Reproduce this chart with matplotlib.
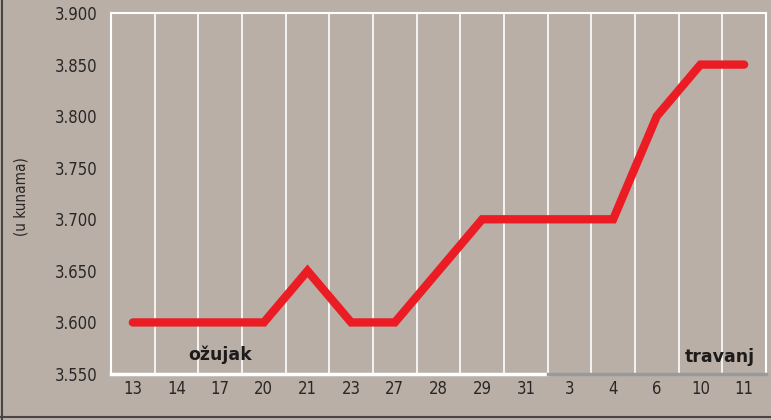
import matplotlib
matplotlib.use('Agg')
import matplotlib.pyplot as plt
from matplotlib.lines import Line2D

days = ['13', '14', '17', '20', '21', '23', '27', '28', '29', '31', '3', '4', '6', '10', '11']
prices = [3.600, 3.600, 3.600, 3.600, 3.650, 3.600, 3.600, 3.650, 3.700, 3.700,
          3.700, 3.700, 3.800, 3.850, 3.850]
yticks = [3.550, 3.600, 3.650, 3.700, 3.750, 3.800, 3.850, 3.900]
ylabels = ['3.550', '3.600', '3.650', '3.700', '3.750', '3.800', '3.850', '3.900']
months = ['ožujak', 'travanj']
split = 10  # first day of travanj

bg = '#b9afa7'
narrow = ['Liberation Sans Narrow', 'DejaVu Sans']
txt = '#2a2626'

fig = plt.figure(figsize=(7.71, 4.20), dpi=100, facecolor=bg)
ax = fig.add_axes([0.144, 0.1095, 0.8495, 0.8595])
ax.set_facecolor(bg)

x = list(range(len(days)))
ax.plot(x, prices, color='#ec1c24', lw=6, solid_capstyle='round',
        solid_joinstyle='miter', zorder=3)

ax.set_xlim(-0.5, len(days) - 0.5)
ax.set_ylim(3.550, 3.900)

# vertical separators between days
for i in range(len(days) - 1):
    ax.axvline(i + 0.5, color='white', lw=1.2, zorder=1)

for s in ['left', 'top', 'right']:
    ax.spines[s].set_color('white')
    ax.spines[s].set_linewidth(1.5)
ax.spines['bottom'].set_visible(False)
n = len(days)
ax.add_line(Line2D([-0.5, split - 0.5], [3.550, 3.550], color='white', lw=2.5,
                   clip_on=False, zorder=4))
ax.add_line(Line2D([split - 0.5, n - 0.5], [3.550, 3.550], color='#9b9a9a', lw=2.5,
                   clip_on=False, zorder=4))

ax.set_xticks(x)
ax.set_xticklabels(days, family=narrow, stretch='condensed', fontsize=12, color=txt)
ax.set_yticks(yticks)
ax.set_yticklabels(ylabels, family=narrow, stretch='condensed', fontsize=12, color=txt)
ax.tick_params(axis='x', length=0, pad=4)
ax.tick_params(axis='y', length=0, pad=10)

ax.text(2.0, 3.5684, months[0], fontsize=12.5, fontweight='bold', color='#1e1b1b',
        ha='center', va='center', zorder=5)
ax.text(13.44, 3.5665, months[1], fontsize=12.5, fontweight='bold', color='#1e1b1b',
        ha='center', va='center', zorder=5)

fig.text(0.027, 0.531, '(u kunama)', rotation=90, family=narrow, stretch='condensed',
         fontsize=11, color=txt, ha='center', va='center')

# figure frame on left and bottom
fig.add_artist(Line2D([0.003, 0.003], [0.0, 1.0], color='#4a4545', lw=1.5,
                      transform=fig.transFigure))
fig.add_artist(Line2D([0.0, 1.0], [0.007, 0.007], color='#4a4545', lw=1.5,
                      transform=fig.transFigure))

fig.savefig('out.png', dpi=100, facecolor=bg)
